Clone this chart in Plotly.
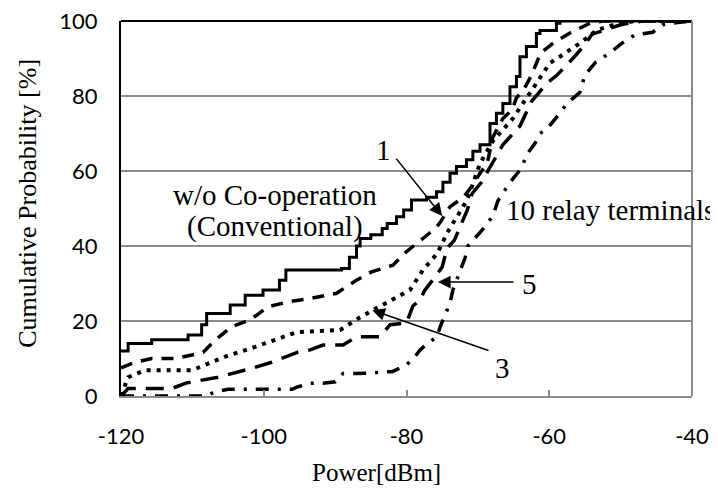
import plotly.graph_objects as go

# ---- data (Power [dBm], cumulative probability [%]) ----
conv_x = [-120, -119, -115.7, -110.6, -108.7, -108.0, -107.3, -104.7, -102.6, -100.1, -97.8, -96.9,
          -89.1, -88.0, -87.0, -86.5, -85.0, -83.4, -82.7, -81.4, -80.4, -79.3, -77.2, -75.8, -74.9,
          -73.9, -73.0, -71.6, -70.7, -69.7, -68.3, -67.4, -66.5, -65.5, -64.6, -64.1, -63.2, -61.8,
          -61.3, -59.0, -58.5, -40]
conv_y = [12, 14, 15, 16.3, 19, 22, 22, 24.3, 26.9, 28.3, 30.9, 33.6,
          34, 37, 40, 42, 43, 44.7, 46, 47.8, 49.6, 52.3, 53, 54.5, 57,
          59.4, 61.2, 63, 65.3, 67, 72.7, 75.4, 78, 82.5, 85.2, 90.5, 93.2, 96.7,
          97.5, 99.4, 100, 100]

r1_x = [-120, -118, -115.7, -112.4, -108.5, -106.8, -104.5, -101.9, -99.4, -96.6, -93.5, -89.8, -87,
        -84.9, -81.9, -80, -77.7, -75.8, -75.2, -73.9, -72, -70.9, -69.7, -68.7, -67.9, -66.5, -65.2,
        -64.6, -63.6, -62.5, -61.2, -59.5, -57.1, -54.3, -52.5, -40]
r1_y = [7.5, 9, 10, 10, 11.6, 14.9, 18.5, 20.3, 23.8, 25.1, 26, 27.4, 30.9,
        33.1, 34.9, 38.5, 42, 45, 46.5, 50.5, 53, 55.8, 59.4, 62, 69, 74, 76.3,
        79.5, 81.6, 85.5, 91.5, 94, 96.8, 99.4, 100, 100]

r3_x = [-120, -119, -116.6, -110, -105.4, -101.2, -95.4, -89.3, -86.5, -82.8, -79.5, -77.7, -75.7,
        -74.3, -72.9, -71.5, -69.7, -67.9, -65.1, -62.7, -61.3, -59.9, -58.1, -55.7, -53.3, -51.1,
        -48, -40]
r3_y = [0, 5, 6.9, 6.9, 10.5, 13.1, 17, 17.6, 21, 24.8, 28.3, 33.6, 38,
        43.5, 47.7, 52.3, 62, 68, 74, 81, 85, 88.8, 91, 94.1, 97.6, 98.9,
        100, 100]

r5_x = [-120, -119, -112.9, -110.8, -106.4, -103.3, -101.5, -98.9, -97, -95.2, -93.5, -91.7, -88.9,
        -87, -83.7, -82.3, -80, -79.1, -78.1, -77.5, -76.3, -75, -74.3, -73.3, -72.3, -71.5, -70.8,
        -69.5, -68, -66.5, -64.1, -62.5, -60.3, -58.9, -56.7, -55.3, -54, -52.5, -50, -47, -40]
r5_y = [0, 2, 2, 3.5, 5, 6.5, 7.5, 9, 10.5, 11.7, 12.3, 13.6, 13.6,
        15.8, 15.8, 19, 19.5, 24, 25.6, 28, 31, 34.4, 39.5, 41.5, 46, 49.5, 54,
        57, 62, 67, 72, 78.5, 83.5, 85.6, 90, 93, 96.5, 97.5, 99, 100, 100]

r10_x = [-120, -108, -107, -105, -96, -95.3, -93.5, -91.7, -90, -88.9, -87.2, -85, -83, -82, -80,
         -78.8, -78.1, -77, -75.7, -75.3, -74.6, -73.9, -73.5, -72.5, -71.8, -71.4, -69.5, -67.9,
         -67.2, -65.5, -64, -63, -62, -61.3, -60.2, -58.7, -57.5, -55.7, -55, -53.5, -51.5, -49.8,
         -48, -45.5, -44.1, -42, -40]
r10_y = [0, 0, 1, 1.8, 1.8, 2.4, 3.4, 3.4, 3.8, 6, 6, 6.1, 6.5, 6.5, 8.3,
         10.5, 12.3, 14.1, 15.8, 18.4, 21.6, 24.8, 28.3, 33.6, 36.8, 40, 44, 48,
         52, 57, 60.5, 64.8, 67.4, 70, 71.5, 75, 78, 81, 85.6, 89, 91.5, 94.1,
         96.3, 97, 99, 99.6, 100]

x_ticks = [-120, -100, -80, -60, -40]
x_ticktext = ["-120", "-100", "-80", "-60", "-40"]
y_ticks = [0, 20, 40, 60, 80, 100]

SERIF = "Liberation Serif, Times New Roman, serif"
SANS = "Lato, Liberation Sans, sans-serif"
GRID = "#8c8c8c"

fig = go.Figure()
fig.add_trace(go.Scatter(x=conv_x, y=conv_y, mode="lines", line_shape="hv",
                         line=dict(color="black", width=3), cliponaxis=False))
fig.add_trace(go.Scatter(x=r1_x, y=r1_y, mode="lines",
                         line=dict(color="black", width=3.5, dash="12px,9px"), cliponaxis=False))
fig.add_trace(go.Scatter(x=r3_x, y=r3_y, mode="lines",
                         line=dict(color="black", width=4, dash="4px,6px"), cliponaxis=False))
fig.add_trace(go.Scatter(x=r5_x, y=r5_y, mode="lines",
                         line=dict(color="black", width=3.5, dash="18px,10px"), cliponaxis=False))
fig.add_trace(go.Scatter(x=r10_x, y=r10_y, mode="lines",
                         line=dict(color="black", width=3.5, dash="13px,9px,3px,9px"), cliponaxis=False))

# borders
fig.add_shape(type="line", xref="paper", yref="paper", x0=0, x1=1, y0=1, y1=1,
              line=dict(color="black", width=2))
fig.add_shape(type="line", xref="paper", yref="paper", x0=1, x1=1, y0=0, y1=1,
              line=dict(color=GRID, width=2))

ann = []
def arrow(tx, ty, ax, ay):
    ann.append(dict(x=tx, y=ty, ax=ax, ay=ay, xref="x", yref="y", axref="x", ayref="y",
                    text="", showarrow=True, arrowhead=2, arrowsize=1.7, arrowwidth=1.5,
                    arrowcolor="black", standoff=0, startstandoff=0))
def label(x, y, t, xanchor="center", size=29):
    ann.append(dict(x=x, y=y, xref="x", yref="y", text=t, showarrow=False,
                    xanchor=xanchor, yanchor="middle", borderpad=0,
                    font=dict(family=SERIF, size=size, color="black")))

arrow(-75.0, 48.0, -81.6, 63.7)
label(-83.2, 65.6, "1")
arrow(-75.6, 30.4, -64.8, 30.4)
label(-62.7, 29.8, "5")
arrow(-84.8, 22.9, -68.3, 12.0)
label(-66.5, 7.5, "3")
label(-98.4, 53.6, "w/o Co-operation")
label(-98.4, 45.3, "(Conventional)")
label(-66.2, 49.6, "10 relay terminals", xanchor="left")

# axis titles
ann.append(dict(x=0.448, y=-0.203, xref="paper", yref="paper", text="Power[dBm]",
                showarrow=False, xanchor="center", yanchor="middle",
                font=dict(family=SERIF, size=25, color="black")))
ann.append(dict(x=-0.163, y=0.515, xref="paper", yref="paper", text="Cumulative Probability [%]",
                showarrow=False, xanchor="center", yanchor="middle", textangle=-90,
                font=dict(family=SERIF, size=26, color="black")))

fig.update_layout(
    width=718, height=490,
    margin=dict(l=113, r=34, t=13, b=102),
    paper_bgcolor="white", plot_bgcolor="white",
    showlegend=False,
    annotations=ann,
    xaxis=dict(range=[-120, -40], tickvals=x_ticks, ticktext=x_ticktext,
               showline=True, linecolor=GRID, linewidth=2,
               ticks="inside", ticklen=6, tickcolor=GRID, tickwidth=1.5, automargin=False,
               showgrid=False, zeroline=False, ticklabelstandoff=20, ticklabeloverflow="allow",
               tickfont=dict(family=SANS, size=22, color="black")),
    yaxis=dict(range=[0, 100], tickvals=y_ticks, showline=True, linecolor="black", linewidth=2,
               ticks="", showgrid=True, gridcolor=GRID, gridwidth=1.5, zeroline=False,
               ticklabelstandoff=17, automargin=False, ticklabeloverflow="allow",
               tickfont=dict(family=SANS, size=22, color="black")),
)

fig.write_html("out.html")
